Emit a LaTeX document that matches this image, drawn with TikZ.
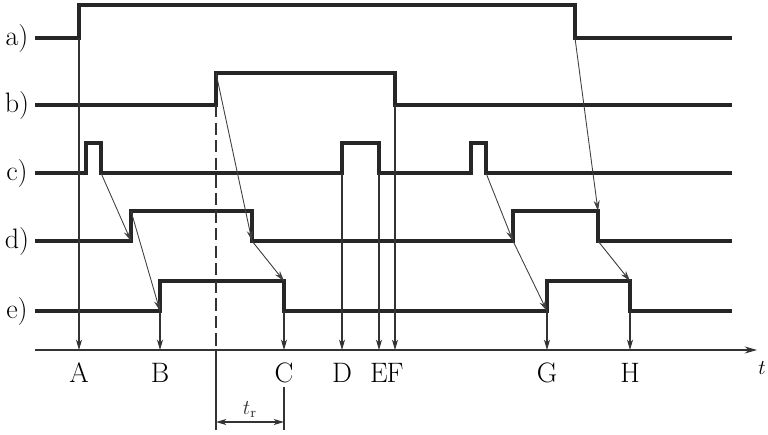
\documentclass[tikz,border=0pt]{standalone}
\usetikzlibrary{arrows.meta}
\begin{document}
\begin{tikzpicture}[x=0.02cm, y=-0.02cm, every node/.style={font=\fontsize{16}{19}\selectfont, inner sep=1pt},
  sig/.style={line width=2.3pt, line join=miter, black!85},
  cause/.style={line width=0.5pt, black!75, -{Stealth[length=6pt, width=3.5pt]}},
  drop/.style={line width=0.6pt, black!80, -{Stealth[length=6pt, width=3.5pt]}}]
  \useasboundingbox (0,0) rectangle (768,434);
  % signals
  \draw[sig] (35,38) -- (79,38) coordinate (aR) -- (79,5) -- (575,5) -- (575,38) coordinate (aF) -- (732,38);
  \draw[sig] (35,105) -- (216,105) coordinate (bR) -- (216,73) coordinate (bRt) -- (395,73) -- (395,105) coordinate (bF) -- (732,105);
  \draw[sig] (35,173) -- (86,173) -- (86,143) -- (101,143) -- (101,173) coordinate (c1F) -- (342,173) coordinate (c2R)
    -- (342,143) -- (379,143) -- (379,173) coordinate (c2F) -- (471,173) -- (471,143) -- (486,143) -- (486,173) coordinate (c3F) -- (732,173);
  \draw[sig] (35,241) -- (131,241) coordinate (d1R) -- (131,211) coordinate (d1Rt) -- (252,211) -- (252,241) coordinate (d1F)
    -- (513,241) coordinate (d2R) -- (513,211) -- (598,211) coordinate (d2Ft) -- (598,241) coordinate (d2F) -- (732,241);
  \draw[sig] (35,311) -- (160,311) coordinate (e1R) -- (160,281) -- (284,281) coordinate (e1Ft) -- (284,311) coordinate (e1F)
    -- (547,311) coordinate (e2R) -- (547,281) -- (630,281) coordinate (e2Ft) -- (630,311) coordinate (e2F) -- (732,311);
  % row labels
  \node (la) at (17,38) {a)};
  \node (lb) at (17,105) {b)};
  \node (lc) at (17,173) {c)};
  \node (ld) at (17,241) {d)};
  \node (le) at (17,311) {e)};
  % time axis
  \coordinate (ax0) at (35,350);
  \coordinate (ax1) at (757,350);
  \draw[line width=0.6pt, black!80, -{Stealth[length=7pt, width=4pt]}] (ax0) -- (ax1);
  \node[font=\large] (t) at (762,368) {$t$};
  % causes
  \draw[cause] (c1F) -- (d1R);
  \draw[cause] (d1Rt) -- (e1R);
  \draw[cause] (bRt) -- (d1F);
  \draw[cause] (d1F) -- (e1Ft);
  \draw[cause] (c3F) -- (d2R);
  \draw[cause] (d2R) -- (e2R);
  \draw[cause] (aF) -- (d2Ft);
  \draw[cause] (d2F) -- (e2Ft);
  % instants
  \foreach \p/\n/\l in {aR/A/A, e1R/B/B, e1F/C/C, c2R/D/D, c2F/E/E, bF/F/F, e2R/G/G, e2F/H/H} {
    \draw[drop] (\p) -- (\p |- ax0);
    \node (\n) at ([yshift=-0.46cm]\p |- ax0) {\l};
  }
  % response time
  \draw[line width=0.6pt, black!80, dashed, dash pattern=on 7pt off 3pt] (bR) -- (bR |- ax0);
  \coordinate (trL) at (216,430);
  \coordinate (trR) at (284,430);
  \draw[line width=0.6pt, black!80] (bR |- ax0) -- (trL);
  \draw[line width=0.6pt, black!80] (284,387) -- (trR);
  \draw[line width=0.6pt, black!80, {Stealth[length=6pt, width=3.5pt]}-{Stealth[length=6pt, width=3.5pt]}]
    ([yshift=0.16cm]trL) -- ([yshift=0.16cm]trR) node[midway, above=1pt, font=\large] (tr) {$t_\mathrm{r}$};
\end{tikzpicture}
\end{document}
